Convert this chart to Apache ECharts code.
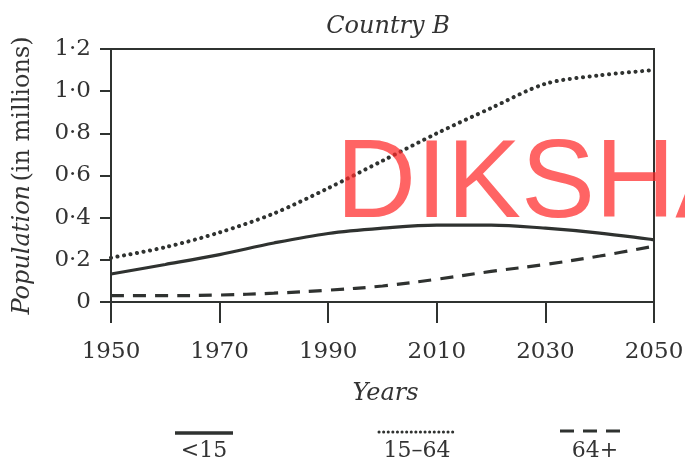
<!DOCTYPE html>
<html>
<head>
<meta charset="utf-8">
<script src="https://cdn.jsdelivr.net/npm/echarts@6/dist/echarts.min.js"></script>
<style>
html,body{margin:0;padding:0;background:#fff;}
#chart{width:685px;height:466px;}
</style>
</head>
<body>
<div id="chart"></div>
<script>
var years = ['1950','1960','1970','1980','1990','2000','2010','2020','2030','2040','2050'];
var under15 = [0.133, 0.178, 0.225, 0.28, 0.325, 0.35, 0.365, 0.365, 0.35, 0.327, 0.295];
var age15to64 = [0.21, 0.26, 0.33, 0.42, 0.54, 0.67, 0.80, 0.92, 1.035, 1.075, 1.10];
var age64plus = [0.03, 0.03, 0.033, 0.042, 0.056, 0.076, 0.108, 0.145, 0.178, 0.218, 0.265];
var yTickLabels = ['0', '0·2', '0·4', '0·6', '0·8', '1·0', '1·2'];
var seriesNames = ['<15', '15–64', '64+'];

var ink = '#2f3230';
var serif = 'DejaVu Serif';

var chart = echarts.init(document.getElementById('chart'));
chart.setOption({
  backgroundColor: '#ffffff',
  animation: false,
  title: {
    text: 'Country B',
    left: 383, top: 10, textAlign: 'center',
    textStyle: {fontFamily: serif, fontStyle: 'italic', fontWeight: 'normal', fontSize: 24, color: '#333'}
  },
  grid: {left: 111, right: 31, top: 49, bottom: 164, show: true, borderColor: ink, borderWidth: 2,
         containLabel: false, outerBoundsMode: 'none'},
  xAxis: {
    type: 'category',
    data: years,
    boundaryGap: false,
    offset: 10,
    axisLine: {show: true, lineStyle: {color: ink, width: 2}},
    axisTick: {show: true, interval: 1, length: 21, lineStyle: {color: ink, width: 2}},
    axisLabel: {interval: 1, margin: 29, fontFamily: serif, fontSize: 23, color: '#333'},
    splitLine: {show: false},
    name: 'Years',
    nameLocation: 'middle',
    nameGap: 70,
    nameTextStyle: {fontFamily: serif, fontStyle: 'italic', fontSize: 24, color: '#333', padding: [0, 0, 0, 6]}
  },
  yAxis: {
    type: 'value',
    min: 0, max: 1.2, interval: 0.2,
    axisLine: {show: true, lineStyle: {color: ink, width: 2}},
    axisTick: {show: true, length: 11, lineStyle: {color: ink, width: 2}},
    axisLabel: {
      margin: 20, fontFamily: serif, fontSize: 23, color: '#333',
      formatter: function (v, i) { return yTickLabels[i]; }
    },
    splitLine: {show: false},
    name: '{i|Population} {n|(in millions)}',
    nameLocation: 'middle',
    nameRotate: 90,
    nameGap: 76,
    nameTextStyle: {
      rich: {
        i: {fontFamily: serif, fontStyle: 'italic', fontSize: 24, color: '#333'},
        n: {fontFamily: serif, fontSize: 24, color: '#333'}
      }
    }
  },
  series: [
    {name: seriesNames[0], type: 'line', data: under15, smooth: 0.35, symbol: 'none',
     lineStyle: {color: ink, width: 3.2}},
    {name: seriesNames[1], type: 'line', data: age15to64, smooth: 0.3, symbol: 'none',
     lineStyle: {color: ink, width: 4, type: [0.1, 6.5], cap: 'round'}},
    {name: seriesNames[2], type: 'line', data: age64plus, smooth: 0.35, symbol: 'none',
     lineStyle: {color: ink, width: 3.2, type: [13, 9]}}
  ],
  graphic: [
    {type: 'line', shape: {x1: 175, y1: 433, x2: 233, y2: 433}, style: {stroke: ink, lineWidth: 3.5}},
    {type: 'text', style: {text: seriesNames[0], x: 204, y: 451, align: 'center', verticalAlign: 'middle', font: '22px "DejaVu Serif"', fill: '#333'}},
    {type: 'line', shape: {x1: 379, y1: 432, x2: 456, y2: 432}, style: {stroke: ink, lineWidth: 3, lineDash: [0.1, 4.5], lineCap: 'round'}},
    {type: 'text', style: {text: seriesNames[1], x: 417, y: 451, align: 'center', verticalAlign: 'middle', font: '22px "DejaVu Serif"', fill: '#333'}},
    {type: 'line', shape: {x1: 560, y1: 431, x2: 628, y2: 431}, style: {stroke: ink, lineWidth: 3.2, lineDash: [14, 9]}},
    {type: 'text', style: {text: seriesNames[2], x: 595, y: 451, align: 'center', verticalAlign: 'middle', font: '22px "DejaVu Serif"', fill: '#333'}},
    {type: 'text', z: 100, style: {text: 'DIKSHA', x: 336, y: 186, verticalAlign: 'middle', font: '111px "Liberation Sans"', fill: 'rgba(255,40,40,0.72)'}}
  ]
});
</script>
</body>
</html>
